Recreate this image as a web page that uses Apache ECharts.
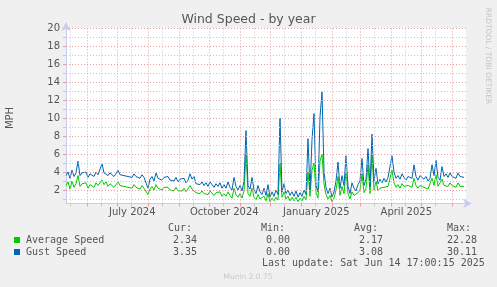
<!DOCTYPE html>
<html><head><meta charset="utf-8">
<script src="https://cdn.jsdelivr.net/npm/echarts@6/dist/echarts.min.js"></script>
<style>html,body{margin:0;padding:0;background:#f0f0f0;}#c{width:497px;height:287px;}</style>
</head><body><div id="c"></div>
<script>
const endTime = Date.UTC(2025, 5, 14, 17, 0, 15);
const spanDays = 400;
const stepDays = 2;

const avgSpeed = [
2.5,2.9,2.1,3.0,2.3,2.7,3.6,2.4,2.7,2.5,
2.8,2.2,2.6,2.7,2.3,2.8,2.5,2.4,3.1,2.6,
2.9,2.4,2.7,2.8,2.3,2.6,2.9,2.5,2.7,2.4,
2.6,2.3,2.5,2.2,2.6,2.3,2.4,2.1,2.5,2.2,
2.3,1.5,2.1,2.4,2.0,2.6,2.2,2.3,2.0,2.3,
2.1,2.3,2.0,2.2,1.9,2.3,1.9,2.1,1.9,2.2,
1.8,2.0,2.5,2.1,2.3,1.7,1.9,1.6,1.9,1.6,
1.8,1.5,1.9,1.7,1.4,1.7,1.5,1.8,1.3,1.6,
1.3,1.8,1.4,1.1,2.2,1.5,1.2,1.6,1.1,1.9,
6.0,1.6,1.3,2.2,1.2,0.9,1.5,1.0,0.8,1.3,
0.8,1.6,0.7,1.1,0.8,1.2,0.9,5.0,1.2,1.8,
1.0,1.3,0.8,1.2,0.8,1.2,0.7,1.1,0.8,1.3,
0.9,4.0,1.3,4.2,5.0,1.7,1.1,5.2,6.0,2.7,
1.5,1.0,1.4,0.7,1.1,2.0,3.5,1.4,2.4,1.6,
4.0,1.6,1.0,1.8,1.4,1.2,1.7,2.0,3.8,1.7,
2.2,4.8,1.6,5.9,2.0,3.0,1.9,2.2,2.0,2.3,
2.1,2.4,2.5,4.2,2.8,2.3,2.6,2.2,2.7,2.4,
2.2,2.5,2.6,2.3,3.3,2.5,2.2,2.5,2.4,2.3,
2.5,2.1,2.3,3.3,2.5,3.7,2.4,2.2,3.2,2.5,
2.7,2.4,2.8,2.5,2.6,2.3,2.8,2.4,2.6,2.4
];
const gustSpeed = [
3.6,4.0,3.3,4.2,3.5,3.9,5.2,3.6,3.9,3.7,
4.0,3.4,3.8,3.9,3.5,4.0,3.7,3.6,4.9,3.9,
4.1,3.6,3.9,4.0,3.5,3.8,4.2,3.7,3.9,3.6,
3.8,3.5,3.7,3.4,3.8,3.5,3.6,3.3,3.7,3.4,
3.6,2.2,3.2,3.5,3.0,3.9,3.3,3.5,3.1,3.4,
3.2,3.5,3.1,3.3,3.0,3.4,2.9,3.2,3.0,3.3,
2.8,3.1,3.8,3.2,3.5,2.7,2.9,2.6,2.9,2.5,
2.8,2.4,2.9,2.6,2.3,2.7,2.4,2.8,2.2,2.6,
2.2,2.9,2.3,2.0,3.4,2.4,2.0,2.5,1.9,3.0,
8.6,2.5,2.1,3.4,2.0,1.6,2.5,1.8,1.5,2.2,
1.4,2.6,1.2,1.8,1.3,2.0,1.5,10.0,1.8,2.7,
1.6,2.0,1.4,1.8,1.3,1.9,1.2,1.7,1.3,2.0,
1.5,7.7,2.0,7.6,10.5,2.5,1.8,10.1,12.9,4.0,
2.3,1.6,2.2,1.2,1.8,3.0,5.1,2.2,3.6,2.5,
5.8,2.4,1.6,2.8,2.2,1.9,2.6,3.0,5.5,2.5,
3.2,6.6,2.4,8.2,3.0,4.4,2.7,3.2,2.8,3.3,
2.9,3.4,3.6,5.8,4.0,3.3,3.6,3.2,3.8,3.4,
3.1,3.5,3.7,3.3,4.8,3.5,3.1,3.6,3.4,3.2,
3.5,3.0,3.3,4.8,3.6,5.3,3.4,3.1,4.6,3.5,
3.8,3.4,3.9,3.5,3.7,3.3,3.9,3.5,3.7,3.4
];

const majorGridDates = ['2024-06-01','2024-07-01','2024-08-01','2024-09-01','2024-10-01','2024-11-01','2024-12-01',
  '2025-01-01','2025-02-01','2025-03-01','2025-04-01','2025-05-01','2025-06-01'];
const minorGridDates = ['2024-05-15','2024-06-15','2024-07-15','2024-08-15','2024-09-15','2024-10-15','2024-11-15',
  '2024-12-15','2025-01-15','2025-02-15','2025-03-15','2025-04-15','2025-05-15'];
const xLabelDates = ['2024-07-16','2024-10-16','2025-01-16','2025-04-16'];
const yMajorTicks = [2,4,6,8,10,12,14,16,18,20];
const yMinorTicks = [1,3,5,7,9,11,13,15,17,19];

const titleText = 'Wind Speed - by year';
const yAxisName = 'MPH';
const seriesNames = ['Average Speed','Gust Speed'];
const seriesColors = ['#00cc00','#0066b3'];
const statHeaders = ['Cur:','Min:','Avg:','Max:'];
const statsAvg = ['2.34','0.00','2.17','22.28'];
const statsGust = ['3.35','0.00','3.08','30.11'];
const lastUpdate = 'Last update: Sat Jun 14 17:00:15 2025';
const footer = 'Munin 2.0.75';
const sideText = 'RRDTOOL / TOBI OETIKER';

const DAY = 86400000;
const startTime = endTime - spanDays * DAY;
const toT = s => Date.parse(s + 'T00:00:00Z');
const mk = arr => arr.map((v, i) => [startTime + i * stepDays * DAY, v]);
const monthNames = ['January','February','March','April','May','June','July','August','September','October','November','December'];

const axisCol = '#c6ccf2';
const majCol = '#e6a0a0';
const minCol = '#c8c8c8';
const txtCol = '#555';

const chart = echarts.init(document.getElementById('c'), null, {renderer: 'canvas'});

const mono = '10px "DejaVu Sans Mono"';
const graphics = [
  {type:'text', x:248.5, y:20, style:{text:titleText, font:'12.5px "DejaVu Sans"', fill:txtCol, align:'center', verticalAlign:'middle'}},
  {type:'text', x:10, y:118, rotation:Math.PI/2, style:{text:yAxisName, font:'10px "DejaVu Sans"', fill:txtCol, align:'center', verticalAlign:'middle'}},
  {type:'text', x:488, y:56, rotation:-Math.PI/2, style:{text:sideText, font:'7.5px "DejaVu Sans"', fill:'#c4c4c4', align:'center', verticalAlign:'middle'}},
  {type:'text', x:248, y:277, style:{text:footer, font:'7.5px "DejaVu Sans"', fill:'#c8c8c8', align:'center', verticalAlign:'middle'}},
  {type:'text', x:262, y:263, style:{text:lastUpdate, font:mono, fill:txtCol, align:'left', verticalAlign:'middle'}}
];
const headerX = [168, 261, 354, 447];
const valRight = [197, 290, 383, 477];
statHeaders.forEach((h, i) => graphics.push({type:'text', x:headerX[i], y:228, style:{text:h, font:mono, fill:txtCol, align:'left', verticalAlign:'middle'}}));
[statsAvg, statsGust].forEach((row, r) => {
  const y = 240 + r * 12;
  graphics.push({type:'rect', shape:{x:14, y:y-3, width:6, height:6}, style:{fill:seriesColors[r]}});
  graphics.push({type:'text', x:26, y:y, style:{text:seriesNames[r], font:mono, fill:txtCol, align:'left', verticalAlign:'middle'}});
  row.forEach((v, i) => graphics.push({type:'text', x:valRight[i], y:y, style:{text:v, font:mono, fill:txtCol, align:'right', verticalAlign:'middle'}}));
});

const gridLine = (col) => ({color:col, type:[1,2], width:1});
const gridMarks = [].concat(
  minorGridDates.map(d => ({xAxis:toT(d), lineStyle:gridLine(minCol)})),
  yMinorTicks.map(v => ({yAxis:v, lineStyle:gridLine(minCol)})),
  majorGridDates.map(d => ({xAxis:toT(d), lineStyle:gridLine(majCol)})),
  yMajorTicks.map(v => ({yAxis:v, lineStyle:gridLine(majCol)}))
);

const xBase = {type:'value', min:startTime, max:endTime, position:'bottom', gridIndex:0, splitLine:{show:false}};
const yBase = {type:'value', min:0.5, max:20, position:'left', gridIndex:0, splitLine:{show:false}};

chart.setOption({
  animation:false,
  backgroundColor:'#f0f0f0',
  grid:{left:66, right:31, top:28, bottom:83.5, show:true, backgroundColor:'#ffffff', borderWidth:0},
  xAxis:[
    Object.assign({}, xBase, {
      axisLine:{show:true, lineStyle:{color:axisCol, width:1}, symbol:['none','arrow'], symbolSize:[7,9], symbolOffset:[0,6]},
      axisTick:{show:true, customValues:majorGridDates.map(toT), length:3, lineStyle:{color:majCol}},
      axisLabel:{show:false}
    }),
    Object.assign({}, xBase, {
      axisLine:{show:false},
      axisTick:{show:true, customValues:minorGridDates.map(toT), length:3, lineStyle:{color:minCol}},
      axisLabel:{show:false}
    }),
    Object.assign({}, xBase, {
      axisLine:{show:false}, axisTick:{show:false},
      axisLabel:{show:true, customValues:xLabelDates.map(toT), margin:4, color:txtCol, fontSize:10, fontFamily:'DejaVu Sans',
        formatter:v => { const d = new Date(v); return monthNames[d.getUTCMonth()] + ' ' + d.getUTCFullYear(); }}
    })
  ],
  yAxis:[
    Object.assign({}, yBase, {
      axisLine:{show:true, lineStyle:{color:axisCol, width:1}, symbol:['none','arrow'], symbolSize:[7,9], symbolOffset:[0,6]},
      axisTick:{show:true, customValues:yMajorTicks, length:3, lineStyle:{color:majCol}},
      axisLabel:{show:true, customValues:yMajorTicks, margin:6, color:txtCol, fontSize:10, fontFamily:'DejaVu Sans'}
    }),
    Object.assign({}, yBase, {
      axisLine:{show:false},
      axisTick:{show:true, customValues:yMinorTicks, length:3, lineStyle:{color:minCol}},
      axisLabel:{show:false}
    })
  ],
  series:[
    {name:'grid', type:'line', xAxisIndex:0, yAxisIndex:0, data:[], z:1, silent:true,
      markLine:{silent:true, symbol:['none','none'], label:{show:false}, emphasis:{disabled:true}, animation:false, data:gridMarks}},
    {name:seriesNames[0], type:'line', xAxisIndex:0, yAxisIndex:0, data:mk(avgSpeed), showSymbol:false, symbol:'none',
      lineStyle:{color:seriesColors[0], width:1}, itemStyle:{color:seriesColors[0]}, z:3},
    {name:seriesNames[1], type:'line', xAxisIndex:0, yAxisIndex:0, data:mk(gustSpeed), showSymbol:false, symbol:'none',
      lineStyle:{color:seriesColors[1], width:1}, itemStyle:{color:seriesColors[1]}, z:4}
  ],
  graphic:graphics
});
</script></body></html>
